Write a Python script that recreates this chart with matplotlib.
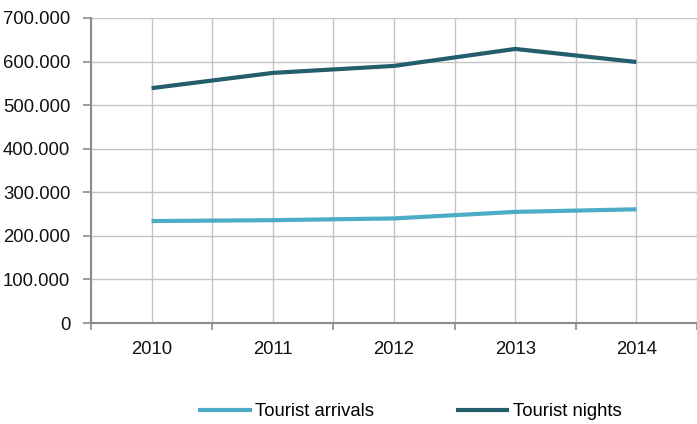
import matplotlib
matplotlib.use('Agg')
import matplotlib.pyplot as plt
from matplotlib.ticker import FuncFormatter

plt.rcParams['font.family'] = ['Liberation Sans', 'DejaVu Sans']

years = ['2010', '2011', '2012', '2013', '2014']
arrivals = [234000, 236000, 240000, 255000, 261000]
nights = [539000, 574000, 590000, 629000, 599000]

c_arr = '#4BACC6'
c_nig = '#245D6C'
grid_c = '#C3C3C3'
axis_c = '#8C8C8C'
fs = 13.3

fig = plt.figure(figsize=(6.97, 4.24), dpi=100)
ax = fig.add_axes([91/697, 101/424, (697-91)/697, 305/424])

x = list(range(len(years)))
ax.plot(x, arrivals, color=c_arr, lw=3, solid_capstyle='butt', label='Tourist arrivals', zorder=3)
ax.plot(x, nights, color=c_nig, lw=3, solid_capstyle='butt', label='Tourist nights', zorder=3)

ax.set_ylim(0, 700000)
ax.set_xlim(-0.5, 4.467)
ax.set_yticks(range(0, 700001, 100000))
ax.yaxis.set_major_formatter(FuncFormatter(lambda v, p: f'{int(v):,}'.replace(',', '.')))
ax.set_xticks(x)
ax.set_xticklabels(years)
ax.set_xticks([-0.5, 0.5, 1.5, 2.5, 3.5, 4.5], minor=True)

ax.tick_params(axis='y', length=6, width=1.2, color=axis_c, pad=9, labelsize=fs, labelcolor='#111111')
ax.tick_params(axis='x', which='major', length=0, pad=13, labelsize=fs, labelcolor='#111111')
ax.tick_params(axis='x', which='minor', length=5, width=1.2, color=axis_c)

ax.grid(axis='y', color=grid_c, lw=1)
ax.grid(axis='x', which='both', color=grid_c, lw=1)
ax.set_axisbelow(True)

for s in ['top', 'right']:
    ax.spines[s].set_visible(False)
for s in ['left', 'bottom']:
    ax.spines[s].set_color(axis_c)
    ax.spines[s].set_linewidth(1.5)

fig.legend(loc='center', bbox_to_anchor=(410/697, 1 - 412/424), ncol=2, frameon=False,
           fontsize=fs, handlelength=2.9, handletextpad=0.2, columnspacing=4.4)

fig.savefig('out.png', dpi=100)
